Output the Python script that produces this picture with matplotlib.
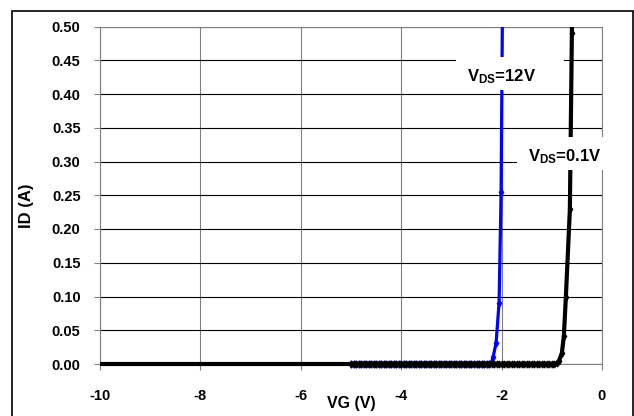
import numpy as np
import matplotlib.pyplot as plt
from matplotlib.patches import Rectangle

plt.rcParams['font.family'] = ['Liberation Sans', 'DejaVu Sans']
plt.rcParams['font.weight'] = 'bold'
plt.rcParams['mathtext.fontset'] = 'custom'
plt.rcParams['mathtext.rm'] = 'Liberation Sans:bold'
plt.rcParams['mathtext.bf'] = 'Liberation Sans:bold'

# off-state sweep (VG step 0.05 V), ID reads as zero
vg_off_12 = np.round(np.arange(-5.0, -2.2, 0.05), 2)
vg_off_01 = np.round(np.arange(-10.0, -0.9, 0.05), 2)

# turn-on part
vg_on_12 = [-2.20, -2.17, -2.11, -2.05, -2.01, -1.97]
id_on_12 = [0.003, 0.010, 0.031, 0.091, 0.255, 0.66]
vg_on_01 = [-0.90, -0.86, -0.80, -0.76, -0.72, -0.64, -0.60, -0.57]
id_on_01 = [0.001, 0.004, 0.016, 0.041, 0.099, 0.229, 0.490, 0.80]

vg_12 = list(vg_off_12) + vg_on_12
id_12 = [0.0] * len(vg_off_12) + id_on_12
vg_01 = list(vg_off_01) + vg_on_01
id_01 = [0.0] * len(vg_off_01) + id_on_01

xticks = [-10, -8, -6, -4, -2, 0]
yticks = [0.00, 0.05, 0.10, 0.15, 0.20, 0.25, 0.30, 0.35, 0.40, 0.45, 0.50]

fig = plt.figure(figsize=(6.34, 4.16), dpi=100)
ax = fig.add_axes([100 / 634, 1 - 364 / 416, 502 / 634, 337.5 / 416])

# let the thick zero line show below the axis, but clip at the top
clip = Rectangle((0, -0.03), 1, 1.03, transform=ax.transAxes,
                 fill=False, visible=False)
ax.add_patch(clip)

# markers on the black curve only from -5 V on
start01 = int(np.argmin(np.abs(np.array(vg_01) + 5.0)))
l12, = ax.plot(vg_12, id_12, color='#0000FF', lw=2.3, marker='d', ms=3.5,
               zorder=3)
l01, = ax.plot(vg_01, id_01, color='black', lw=3, marker='d', ms=3.5,
               markevery=list(range(start01, len(vg_01))), zorder=4)
l12.set_clip_path(clip)
l01.set_clip_path(clip)

ax.set_xlim(-10, 0)
ax.set_ylim(0, 0.5)
ax.set_xticks(xticks)
ax.set_yticks(yticks)
ax.set_xticklabels([str(t) for t in xticks])
ax.set_yticklabels(['%.2f' % t for t in yticks])
ax.tick_params(axis='both', labelsize=10.5, direction='out', length=4,
               color='#808080', width=0.8)
ax.tick_params(axis='x', pad=14)
ax.tick_params(axis='y', pad=10)

for x in xticks:
    ax.axvline(x, color='#808080', lw=0.8, zorder=1)
for y in yticks:
    ax.axhline(y, color='black', lw=0.8, zorder=1)
for s in ax.spines.values():
    s.set_color('#808080')
    s.set_linewidth(0.8)

ax.set_xlabel('VG (V)', fontsize=11.5, fontweight='bold', labelpad=-5)
ax.set_ylabel('ID (A)', fontsize=12, fontweight='bold')
ax.yaxis.set_label_coords(-0.132, 0.47)

# white label boxes
ax.add_patch(Rectangle((-2.91, 0.406), 2.15, 0.049, facecolor='white',
                       edgecolor='none', zorder=5, clip_on=False))
ax.add_patch(Rectangle((-1.69, 0.287), 1.89, 0.049, facecolor='white',
                       edgecolor='none', zorder=5, clip_on=False))
ax.text(-2.0, 0.425, r'$\mathbf{V_{DS}}$=12V', fontsize=12,
        fontweight='bold', ha='center', va='center', zorder=6,
        clip_on=False)
ax.text(-0.74, 0.307, r'$\mathbf{V_{DS}}$=0.1V', fontsize=12,
        fontweight='bold', ha='center', va='center', zorder=6,
        clip_on=False)

fig.add_artist(Rectangle((12 / 634, -0.1), (633 - 12) / 634,
                         (416 - 11) / 416 + 0.1, transform=fig.transFigure,
                         fill=False, edgecolor='black', lw=1.2))

fig.savefig('out.png', dpi=100)
